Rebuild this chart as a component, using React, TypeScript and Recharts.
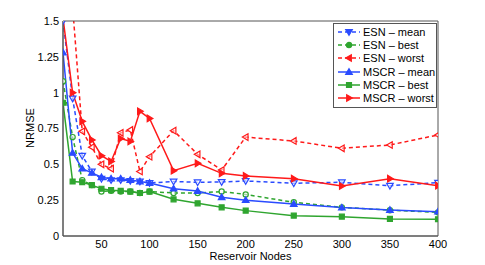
import React from "react";
import {LineChart, Line, XAxis, YAxis, Legend} from 'recharts';

const nodes = [10, 20, 30, 40, 50, 60, 70, 80, 90, 100, 125, 150, 175, 200, 250, 300, 350, 400];
const esnMean = [1.5, 0.96, 0.56, 0.45, 0.40, 0.39, 0.39, 0.385, 0.38, 0.37, 0.38, 0.375, 0.377, 0.384, 0.368, 0.375, 0.351, 0.372];
const esnBest = [1.08, 0.69, 0.39, 0.355, 0.31, 0.315, 0.31, 0.31, 0.30, 0.31, 0.30, 0.30, 0.31, 0.29, 0.235, 0.20, 0.18, 0.165];
const esnWorst = [4.0, 1.6, 0.73, 0.62, 0.50, 0.47, 0.72, 0.74, 0.45, 0.553, 0.735, 0.57, 0.46, 0.69, 0.663, 0.612, 0.635, 0.705];
const mscrMean = [1.28, 0.58, 0.47, 0.44, 0.41, 0.40, 0.40, 0.39, 0.38, 0.37, 0.33, 0.314, 0.27, 0.25, 0.223, 0.198, 0.181, 0.17];
const mscrBest = [0.93, 0.38, 0.375, 0.355, 0.33, 0.32, 0.315, 0.31, 0.30, 0.31, 0.256, 0.228, 0.2, 0.177, 0.142, 0.135, 0.119, 0.117];
const mscrWorst = [1.52, 1.0, 0.80, 0.67, 0.56, 0.52, 0.68, 0.66, 0.87, 0.82, 0.456, 0.507, 0.437, 0.419, 0.40, 0.349, 0.40, 0.351];

const xTicks = [50, 100, 150, 200, 250, 300, 350, 400];
const yTicks = [0, 0.25, 0.5, 0.75, 1, 1.25, 1.5];

const BLUE = "#2a4bff";
const GREEN = "#2fa52f";
const RED = "#ff1a1a";
const FONT = "'Liberation Sans', Arial, sans-serif";

const data = nodes.map((n, i) => ({
    n,
    esnMean: esnMean[i],
    esnBest: esnBest[i],
    esnWorst: esnWorst[i],
    mscrMean: mscrMean[i],
    mscrBest: mscrBest[i],
    mscrWorst: mscrWorst[i],
}));

type Shape = 'down' | 'up' | 'left' | 'right' | 'circle' | 'square';

const markerPath = (shape: Shape, cx: number, cy: number, r: number) => {
    switch (shape) {
        case 'down': return `M${cx - r},${cy - r * 0.7} L${cx + r},${cy - r * 0.7} L${cx},${cy + r} Z`;
        case 'up': return `M${cx - r},${cy + r * 0.7} L${cx + r},${cy + r * 0.7} L${cx},${cy - r} Z`;
        case 'left': return `M${cx + r * 0.7},${cy - r} L${cx + r * 0.7},${cy + r} L${cx - r},${cy} Z`;
        case 'right': return `M${cx - r * 0.7},${cy - r} L${cx - r * 0.7},${cy + r} L${cx + r},${cy} Z`;
        case 'square': return `M${cx - r * 0.75},${cy - r * 0.75} h${r * 1.5} v${r * 1.5} h${-r * 1.5} Z`;
        default: return '';
    }
};

const Marker = ({cx, cy, shape, color, hollow}: {cx: number, cy: number, shape: Shape, color: string, hollow?: boolean}) => {
    const fill = hollow ? 'rgba(255,255,255,0.55)' : color;
    if (shape === 'circle') {
        return <circle cx={cx} cy={cy} r={2.6} fill={fill} stroke={color} strokeWidth={1.2}/>;
    }
    return <path d={markerPath(shape, cx, cy, 3.3)} fill={fill} stroke={color} strokeWidth={1.2}/>;
};

const series = [
    {key: 'esnMean', name: 'ESN – mean', color: BLUE, shape: 'down' as Shape, dashed: true},
    {key: 'esnBest', name: 'ESN – best', color: GREEN, shape: 'circle' as Shape, dashed: true},
    {key: 'esnWorst', name: 'ESN – worst', color: RED, shape: 'left' as Shape, dashed: true},
    {key: 'mscrMean', name: 'MSCR – mean', color: BLUE, shape: 'up' as Shape, dashed: false},
    {key: 'mscrBest', name: 'MSCR – best', color: GREEN, shape: 'square' as Shape, dashed: false},
    {key: 'mscrWorst', name: 'MSCR – worst', color: RED, shape: 'right' as Shape, dashed: false},
];

const LegendBox = () => (
    <div style={{border: '1px solid #555', background: '#fff', padding: '1px 1px 2px 3px', fontFamily: FONT, fontSize: 11}}>
        {series.map(s => (
            <div key={s.key} style={{display: 'flex', alignItems: 'center', height: 13.3}}>
                <svg width={24} height={12} style={{marginRight: 2}}>
                    <line x1={1} y1={6} x2={23} y2={6} stroke={s.color} strokeWidth={1.5}
                          strokeDasharray={s.dashed ? '4 3' : undefined}/>
                    <Marker cx={12} cy={6} shape={s.shape} color={s.color}/>
                </svg>
                <span style={{color: '#000', whiteSpace: 'nowrap'}}>{s.name}</span>
            </div>
        ))}
    </div>
);

const tickStyle = {fontSize: 11, fontFamily: FONT, fill: '#000'};

const App = () => {
    return (
        <div style={{position: 'absolute', left: 0, top: 0}}>
            <LineChart width={485} height={265} data={data}
                       margin={{top: 21, right: 47, left: 0, bottom: 0}}>
                <XAxis dataKey="n" type="number" domain={[10, 400]} ticks={xTicks} allowDataOverflow
                       height={29} tickLine={false} tickSize={2} tick={tickStyle} stroke="#555"
                       label={{content: () => (
                           <text x={250.5} y={260} textAnchor="middle" fontSize={11} fontFamily={FONT} fill="#000">Reservoir Nodes</text>
                       )}}/>
                <YAxis type="number" domain={[0, 1.5]} ticks={yTicks} allowDataOverflow
                       width={63} tickLine={false} tickSize={2} tick={tickStyle} stroke="#555"
                       label={{content: () => (
                           <text x={34} y={128} transform="rotate(-90 34 128)" textAnchor="middle" fontSize={11} fontFamily={FONT} fill="#000">NRMSE</text>
                       )}}/>
                <XAxis xAxisId="bt" dataKey="n" type="number" domain={[10, 400]} ticks={xTicks} allowDataOverflow
                       orientation="bottom" mirror tick={false} tickSize={4} stroke="#555"/>
                <XAxis xAxisId="top" dataKey="n" type="number" domain={[10, 400]} ticks={xTicks} allowDataOverflow
                       orientation="top" mirror tick={false} tickSize={4} stroke="#555"/>
                <YAxis yAxisId="lt" type="number" domain={[0, 1.5]} ticks={yTicks} allowDataOverflow
                       orientation="left" mirror tick={false} tickSize={4} stroke="#555"/>
                <YAxis yAxisId="rt" type="number" domain={[0, 1.5]} ticks={yTicks} allowDataOverflow
                       orientation="right" mirror tick={false} tickSize={4} stroke="#555"/>
                {series.map(s => (
                    <Line key={s.key} type="linear" dataKey={s.key} name={s.name} stroke={s.color}
                          strokeWidth={1.5} strokeDasharray={s.dashed ? '4 3' : undefined}
                          isAnimationActive={false}
                          dot={(p: any) => (
                              <Marker key={`${s.key}-${p.index}`} cx={p.cx} cy={p.cy} shape={s.shape}
                                      color={s.color} hollow={s.dashed}/>
                          )}
                          activeDot={false}/>
                ))}
                <Legend layout="horizontal" verticalAlign="middle" align="center" content={<LegendBox/>}
                        wrapperStyle={{position: 'absolute', left: 333, top: 23, width: 'auto'}}/>
            </LineChart>
        </div>
    );
}

export default App;
